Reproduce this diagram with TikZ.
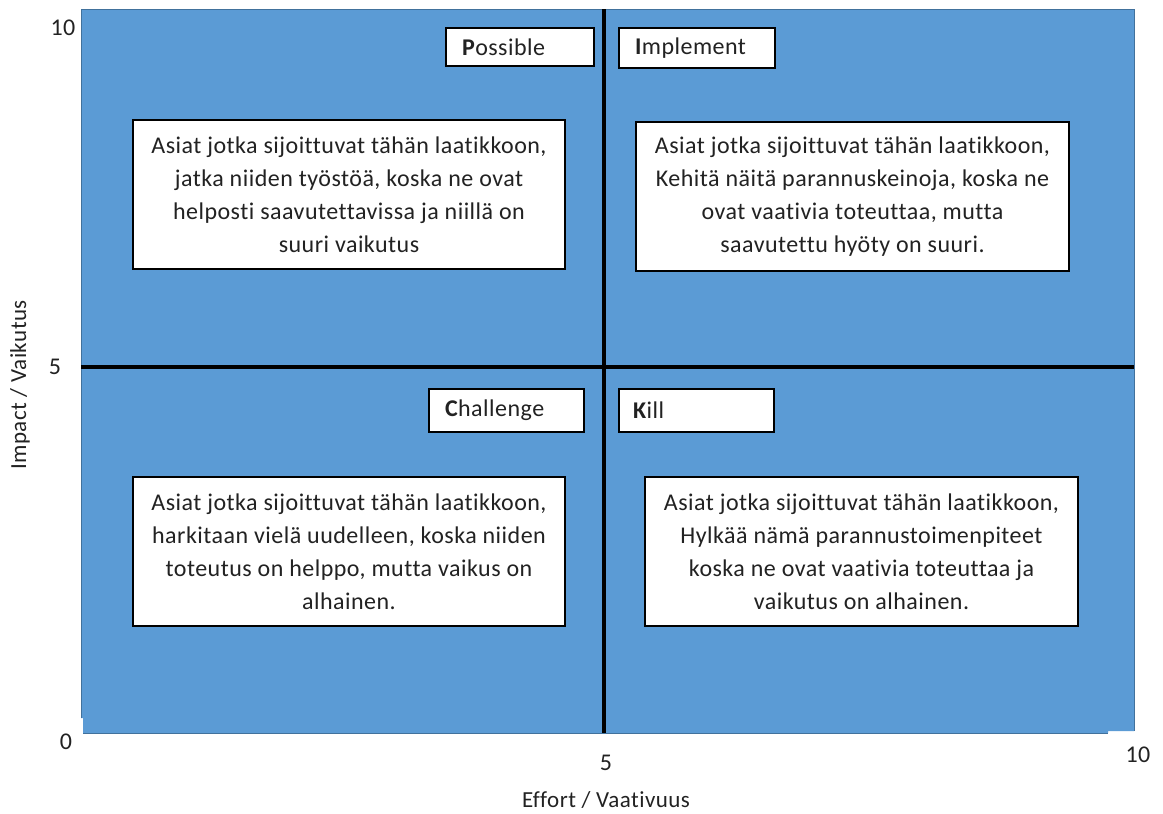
\documentclass[tikz,border=0pt]{standalone}
\usepackage{fontspec}
\setmainfont{Carlito}[LetterSpace=2, Ligatures=NoCommon]
\definecolor{fieldblue}{HTML}{5B9BD5}
\definecolor{fieldedge}{HTML}{41719C}
\definecolor{ink}{HTML}{222222}
\begin{document}
\begin{tikzpicture}[x=1pt,y=-1pt,
  note/.style={draw=black, line width=1.3pt, fill=white, text=ink,
    minimum width=432pt, minimum height=149pt, align=center,
    font=\fontsize{24}{33}\selectfont},
  tag/.style={draw=black, line width=1.3pt, fill=white, text=ink,
    inner xsep=16pt, inner ysep=0pt, align=left,
    font=\fontsize{24}{28}\selectfont},
  axisnum/.style={text=ink, inner sep=0pt, font=\fontsize{24}{28}\selectfont},
  axislabel/.style={text=ink, inner sep=0pt, font=\fontsize{23}{27}\selectfont},
  divider/.style={line width=3.2pt, black}]
\useasboundingbox (0,0) rectangle (1163,814);

% blue field
\fill[fieldblue] (81,9) -- (1134,9) -- (1134,731) -- (1108,731) -- (1108,733)
  -- (83,733) -- (83,718) -- (81,718) -- cycle;
\draw[fieldedge, line width=0.9pt] (81,718) -- (81,9) -- (1134,9) -- (1134,731);
\draw[fieldedge, line width=0.9pt] (83,733) -- (1108,733);

% quadrant dividers
\coordinate (vtop) at (604,9);
\coordinate (vbot) at (604,733);
\coordinate (hleft) at (81,367);
\coordinate (hright) at (1134,367);
\draw[divider] (vtop) -- (vbot);
\draw[divider] (hleft) -- (hright);

% quadrant titles
\node[tag, text width=116pt, minimum height=38pt] (possible) at (520,47) {\textbf{P}ossible};
\node[tag, text width=124pt, minimum height=40pt] (implement) at (697,48) {\textbf{I}mplement};
\node[tag, text width=123pt, minimum height=43pt] (challenge) at (506.5,410.5) {\textbf{C}hallenge};
\node[tag, text width=127pt, minimum height=43pt, inner xsep=14pt] (kill) at (696.5,410.5) {\textbf{K}ill};

% quadrant descriptions
\node[note] (possibletext) at (349,194.5) {Asiat jotka sijoittuvat tähän laatikkoon,\\
  jatka niiden työstöä, koska ne ovat\\ helposti saavutettavissa ja niillä on\\ suuri vaikutus};
\node[note, minimum width=433pt] (implementtext) at (852.5,196.5) {Asiat jotka sijoittuvat tähän laatikkoon,\\
  Kehitä näitä parannuskeinoja, koska ne\\ ovat vaativia toteuttaa, mutta\\ saavutettu hyöty on suuri.};
\node[note] (challengetext) at (349,551.5) {Asiat jotka sijoittuvat tähän laatikkoon,\\
  harkitaan vielä uudelleen, koska niiden\\ toteutus on helppo, mutta vaikus on\\ alhainen.};
\node[note, minimum width=433pt] (killtext) at (861.5,551.5) {Asiat jotka sijoittuvat tähän laatikkoon,\\
  Hylkää nämä parannustoimenpiteet\\ koska ne ovat vaativia toteuttaa ja\\ vaikutus on alhainen.};

% axis numbers
\node[axisnum] (y10) at (63,28) {10};
\node[axisnum] (y5) at (55,367) {5};
\node[axisnum] (y0) at (66,742) {0};
\node[axisnum] (x5) at (606,763) {5};
\node[axisnum] (x10) at (1138,755) {10};

% axis titles
\node[axislabel] (xtitle) at (606,800) {Effort / Vaativuus};
\node[axislabel, rotate=90] (ytitle) at (20,385) {Impact / Vaikutus};
\end{tikzpicture}
\end{document}
